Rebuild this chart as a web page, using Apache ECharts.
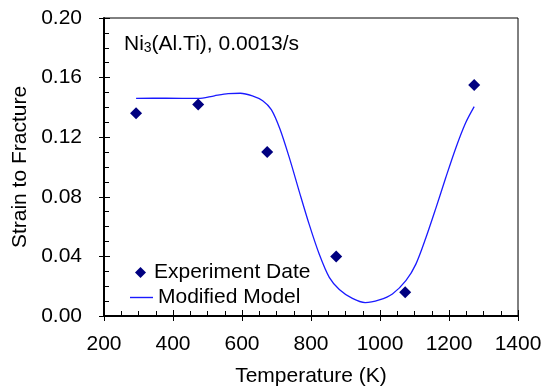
<!DOCTYPE html>
<html>
<head>
<meta charset="utf-8">
<script src="https://cdn.jsdelivr.net/npm/echarts@6/dist/echarts.min.js"></script>
<style>
html,body{margin:0;padding:0;background:#fff;}
#c{width:549px;height:392px;}
</style>
</head>
<body>
<div id="c"></div>
<script>
// Experimental data
var expTemps = [293, 473, 673, 873, 1073, 1273];
var expStrain = [0.136, 0.142, 0.110, 0.040, 0.016, 0.155];

// Modified model curve
var modelTemps = [293, 380, 473, 520, 560, 595, 630, 660, 685, 710, 738, 766, 795, 824, 853, 882, 920, 957, 998, 1036, 1075, 1104, 1133, 1162, 1190, 1219, 1248, 1273];
var modelStrain = [0.146, 0.1462, 0.1460, 0.1478, 0.1492, 0.1495, 0.1478, 0.1445, 0.1385, 0.1255, 0.1056, 0.0835, 0.0613, 0.0414, 0.0259, 0.0178, 0.0118, 0.0090, 0.0108, 0.0148, 0.0237, 0.0348, 0.0525, 0.0724, 0.0924, 0.1123, 0.1295, 0.1405];

var xTicks = [200, 400, 600, 800, 1000, 1200, 1400];
var yTicks = ['0.00', '0.04', '0.08', '0.12', '0.16', '0.20'];

var FONT = 'Liberation Sans, Arial, sans-serif';
var FS = 21;

var expData = expTemps.map(function (t, i) { return [t, expStrain[i]]; });
var modelData = modelTemps.map(function (t, i) { return [t, modelStrain[i]]; });

var chart = echarts.init(document.getElementById('c'), null, {renderer: 'canvas'});

var xMin = xTicks[0], xMax = xTicks[xTicks.length - 1], xInt = xTicks[1] - xTicks[0];
var yMin = parseFloat(yTicks[0]), yMax = parseFloat(yTicks[yTicks.length - 1]), yInt = parseFloat(yTicks[1]) - parseFloat(yTicks[0]);

chart.setOption({
  animation: false,
  backgroundColor: '#fff',
  textStyle: {fontFamily: FONT},
  grid: {left: 104, right: 31, top: 18, bottom: 73, show: true, borderColor: '#000', borderWidth: 1, backgroundColor: 'transparent'},
  title: {
    left: 119, top: 27,
    text: '{a|Ni}{s|3}{a|(Al.Ti), 0.0013/s}',
    textStyle: {
      fontWeight: 'normal',
      rich: {
        a: {fontSize: FS, fontFamily: FONT, fontWeight: 'normal', color: '#000', lineHeight: 24},
        s: {fontSize: 14, fontFamily: FONT, fontWeight: 'normal', color: '#000', lineHeight: 24, padding: [9, 0, 0, 0]}
      }
    }
  },
  legend: [
    {
      data: ['Experiment Date'], left: 130, top: 257, orient: 'vertical',
      itemWidth: 11, itemHeight: 11, icon: 'diamond',
      textStyle: {fontSize: FS, fontFamily: FONT, color: '#000', padding: [0, 0, 0, 3]}
    },
    {
      data: ['Modified Model'], left: 125, top: 282, orient: 'vertical',
      itemWidth: 23, itemHeight: 1.4, icon: 'rect',
      textStyle: {fontSize: FS, fontFamily: FONT, color: '#000'}
    }
  ],
  xAxis: [
    {
      type: 'value', min: xMin, max: xMax, interval: xInt, position: 'bottom',
      name: 'Temperature (K)', nameLocation: 'middle', nameGap: 50,
      nameTextStyle: {fontSize: FS, fontFamily: FONT, color: '#000'},
      axisLine: {show: true, onZero: false, lineStyle: {color: '#000', width: 2}},
      axisTick: {show: true, inside: true, length: 6, lineStyle: {color: '#000', width: 1}},
      minorTick: {show: true, splitNumber: 4, length: 5, lineStyle: {color: '#000', width: 1}},
      axisLabel: {fontSize: FS, fontFamily: FONT, color: '#000', margin: 18, formatter: function (v) { return String(v); }},
      splitLine: {show: false}
    },
    {
      type: 'value', min: xMin, max: xMax, interval: xInt, position: 'bottom', offset: 0,
      axisLine: {show: false, onZero: false},
      axisTick: {show: true, inside: false, length: 5, lineStyle: {color: '#000', width: 1}},
      axisLabel: {show: false},
      splitLine: {show: false}
    }
  ],
  yAxis: [
    {
      type: 'value', min: yMin, max: yMax, interval: yInt, position: 'left',
      name: 'Strain to Fracture', nameLocation: 'middle', nameGap: 70,
      nameTextStyle: {fontSize: FS, fontFamily: FONT, color: '#000'},
      axisLine: {show: true, onZero: false, lineStyle: {color: '#000', width: 2}},
      axisTick: {show: true, inside: true, length: 6, lineStyle: {color: '#000', width: 1}},
      minorTick: {show: true, splitNumber: 4, length: 5, lineStyle: {color: '#000', width: 1}},
      axisLabel: {fontSize: FS, fontFamily: FONT, color: '#000', margin: 22, formatter: function (v) { return v.toFixed(2); }},
      splitLine: {show: false}
    },
    {
      type: 'value', min: yMin, max: yMax, interval: yInt, position: 'left', offset: 0,
      axisLine: {show: false, onZero: false},
      axisTick: {show: true, inside: false, length: 5, lineStyle: {color: '#000', width: 1}},
      axisLabel: {show: false},
      splitLine: {show: false}
    }
  ],
  series: [
    {
      name: 'Modified Model', type: 'line', xAxisIndex: 0, yAxisIndex: 0,
      data: modelData, smooth: 0.3, symbol: 'none',
      lineStyle: {color: '#1a1aff', width: 1.3},
      itemStyle: {color: '#1a1aff'}
    },
    {
      name: 'Experiment Date', type: 'scatter', xAxisIndex: 0, yAxisIndex: 0,
      data: expData, symbol: 'diamond', symbolSize: 12,
      itemStyle: {color: '#000080', opacity: 1}
    }
  ]
});
</script>
</body>
</html>
